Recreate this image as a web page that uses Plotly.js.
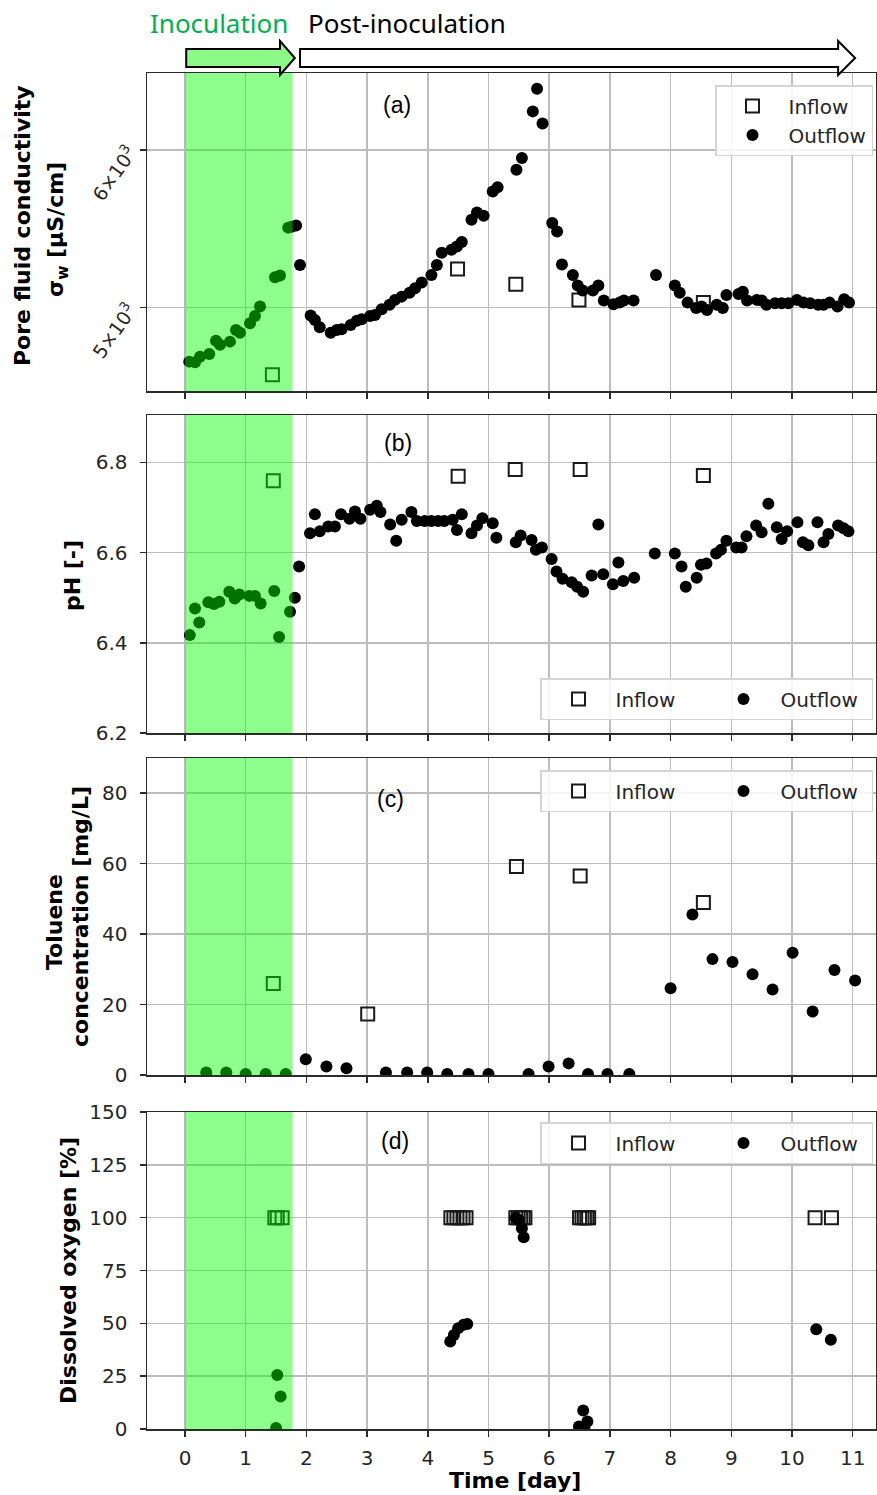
<!DOCTYPE html>
<html><head><meta charset="utf-8">
<script src="https://cdn.plot.ly/plotly-3.0.1.min.js"></script>
<style>body{margin:0;background:#fff}</style>
</head><body>
<div id="chart" style="width:877px;height:1495px"></div>
<script>
// ---------- data ----------
const dayTicks = [0,1,2,3,4,5,6,7,8,9,10,11];
const dayTickLabels = ['0','1','2','3','4','5','6','7','8','9','10','11'];

// (a) pore fluid conductivity [uS/cm]
const condInX = [1.44, 4.49, 5.45, 6.49, 8.54];
const condInY = [4626, 5229, 5137, 5045, 5029];
const condOutX = [0.07,0.165,0.247,0.40,0.51,0.577,0.741,0.84,0.906,1.071,1.153,1.236,1.483,1.565,1.70,1.757,
  1.83,1.895,2.07,2.14,2.22,2.40,2.50,2.58,2.73,2.83,2.91,3.05,3.13,3.24,3.37,3.46,3.57,3.70,3.79,3.90,4.06,4.15,4.23,
  4.39,4.48,4.56,4.72,4.81,4.92,5.07,5.15,5.46,5.55,5.73,5.80,5.89,6.05,6.13,6.21,6.39,6.47,6.55,6.72,6.81,6.90,7.06,
  7.16,7.23,7.39,7.76,8.07,8.15,8.28,8.42,8.51,8.60,8.76,8.86,8.92,9.12,9.19,9.26,9.42,9.50,9.58,9.72,9.83,9.94,10.08,
  10.19,10.30,10.43,10.52,10.62,10.75,10.86,10.94];
const condOutY = [4697,4694,4724,4739,4812,4789,4807,4872,4857,4910,4952,5006,5179,5189,5485,5491,
  5498,5253,4954,4929,4888,4857,4872,4876,4901,4925,4933,4952,4958,4991,5016,5045,5064,5087,5113,5147,5192,5253,5328,
  5346,5366,5394,5535,5582,5561,5719,5747,5865,5945,6275,6442,6187,5514,5461,5256,5193,5129,5100,5100,5129,5041,5020,
  5029,5041,5041,5192,5129,5087,5029,4998,5006,4986,5016,4998,5074,5080,5093,5041,5045,5041,5016,5025,5025,5025,5045,
  5029,5025,5016,5016,5029,5006,5049,5029];

// (b) pH
const phInX = [1.455, 4.50, 5.44, 6.51, 8.54];
const phInY = [6.759, 6.769, 6.784, 6.784, 6.771];
const phOutX = [0.08,0.165,0.236,0.385,0.478,0.566,0.73,0.82,0.895,1.06,1.153,1.247,1.47,1.55,1.73,
  1.81,1.88,2.06,2.14,2.22,2.36,2.47,2.57,2.71,2.80,2.89,3.05,3.16,3.22,3.38,3.48,3.57,3.73,3.82,3.95,4.06,4.17,4.27,
  4.41,4.48,4.56,4.72,4.81,4.90,5.07,5.13,5.45,5.53,5.71,5.78,5.88,6.04,6.12,6.22,6.37,6.46,6.56,6.70,6.81,6.89,7.05,
  7.14,7.22,7.40,7.74,8.07,8.18,8.25,8.43,8.50,8.59,8.75,8.83,8.92,9.08,9.17,9.25,9.41,9.50,9.61,9.75,9.83,9.92,10.09,
  10.18,10.27,10.42,10.52,10.60,10.76,10.85,10.93];
const phOutY = [6.417,6.476,6.445,6.490,6.486,6.491,6.513,6.498,6.507,6.504,6.504,6.487,6.515,6.413,6.469,
  6.500,6.569,6.643,6.685,6.647,6.658,6.658,6.685,6.675,6.691,6.675,6.695,6.704,6.690,6.662,6.626,6.673,6.690,6.670,6.670,6.670,6.670,6.670,
  6.673,6.650,6.685,6.643,6.660,6.676,6.665,6.633,6.623,6.638,6.628,6.606,6.611,6.586,6.558,6.542,6.534,6.524,6.513,6.549,6.662,6.552,6.530,
  6.578,6.537,6.544,6.598,6.598,6.569,6.524,6.544,6.573,6.576,6.598,6.606,6.626,6.611,6.611,6.636,6.660,6.645,6.708,6.656,6.630,6.647,6.667,
  6.623,6.616,6.667,6.623,6.641,6.660,6.654,6.647];

// (c) toluene [mg/L]
const tolInX = [1.455, 3.01, 5.46, 6.51, 8.54];
const tolInY = [26.0, 17.3, 59.2, 56.5, 49.0];
const tolOutX = [0.35,0.68,1.0,1.33,1.66,1.99,2.33,2.66,3.31,3.66,3.99,4.32,4.67,5.0,5.66,5.99,6.32,6.64,6.96,7.32,
  8.0,8.36,8.69,9.02,9.35,9.68,10.01,10.34,10.70,11.04];
const tolOutY = [0.7,0.7,0.3,0.3,0.3,4.45,2.4,1.9,0.7,0.7,0.7,0.3,0.3,0.3,0.3,2.4,3.3,0.3,0.3,0.3,
  24.6,45.6,32.9,32.1,28.6,24.3,34.7,18.0,29.8,26.8];

// (d) dissolved oxygen [%]
const doInX = [1.48,1.52,1.60,4.38,4.43,4.48,4.53,4.58,4.63,5.45,5.49,5.53,5.57,5.60,6.50,6.54,6.58,6.62,6.65,10.38,10.65];
const doInY = [100,100,100,100,100,100,100,100,100,100,100,100,100,100,100,100,100,100,100,100,100];
const doOutX = [1.52,1.575,1.50,4.37,4.43,4.50,4.59,4.65,5.45,5.50,5.55,5.58,6.49,6.56,6.58,6.63,10.40,10.64];
const doOutY = [25.5,15.4,0.5,41.4,44.5,47.7,49.3,49.7,100,99,95,90.7,1.2,8.8,0.5,3.6,47.2,42.2];

const panelLabels = ['(a)','(b)','(c)','(d)'];
const seriesNames = ['Inflow','Outflow'];

// ---------- layout helpers ----------
const W = 877, H = 1495, ML = 147, MR = 1, MT = 73, MB = 66;
const PW = W - ML - MR, PH = H - MT - MB;
const pxX = p => (p - ML) / PW;          // pixel -> paper x
const pxY = p => (H - MB - p) / PH;      // pixel -> paper y
const dom = (top, bot) => [pxY(bot), pxY(top)];

const gridC = '#bdbdbd', lineC = '#2b2b2b', txtC = '#262626';
const tickFont = {family: 'DejaVu Sans', size: 20, color: txtC};
const xRange = [-0.626, 11.384];

function xa(anchor, show) {
  return {anchor: anchor, range: xRange, tickvals: dayTicks, ticktext: dayTickLabels,
    showticklabels: show, ticks: 'outside', ticklen: 6, tickwidth: 1.5, tickcolor: lineC,
    showgrid: true, gridcolor: gridC, gridwidth: 1.5, zeroline: false,
    showline: true, mirror: true, linecolor: lineC, linewidth: 1.5,
    tickfont: tickFont, ticklabelstandoff: 4};
}
function ya(domain, extra) {
  return Object.assign({domain: domain, ticks: 'outside', ticklen: 6, tickwidth: 1.5, tickcolor: lineC,
    showgrid: true, gridcolor: gridC, gridwidth: 1.5, zeroline: false,
    showline: true, mirror: true, linecolor: lineC, linewidth: 1.5,
    tickfont: tickFont, ticklabelstandoff: 8}, extra);
}

const inMarker = {symbol: 'square', size: 13, color: 'rgba(0,0,0,0)', line: {color: '#1a1a1a', width: 2}};
const outMarker = {symbol: 'circle', size: 12, color: '#000', line: {width: 0}};

function pair(xIn, yIn, xOut, yOut, xr, yr, leg) {
  return [
    {type: 'scatter', mode: 'markers', name: seriesNames[0], x: xIn, y: yIn, xaxis: xr, yaxis: yr,
     marker: inMarker, legend: leg},
    {type: 'scatter', mode: 'markers', name: seriesNames[1], x: xOut, y: yOut, xaxis: xr, yaxis: yr,
     marker: outMarker, legend: leg}
  ];
}

const data = [].concat(
  pair(condInX, condInY, condOutX, condOutY, 'x', 'y', 'legend'),
  pair(phInX, phInY, phOutX, phOutY, 'x2', 'y2', 'legend2'),
  pair(tolInX, tolInY, tolOutX, tolOutY, 'x3', 'y3', 'legend3'),
  pair(doInX, doInY, doOutX, doOutY, 'x4', 'y4', 'legend4')
);

const legBase = {bgcolor: 'rgba(255,255,255,0.85)', bordercolor: '#d4d4d4', borderwidth: 1.5,
  font: {family: 'DejaVu Sans', size: 20, color: txtC}, itemwidth: 62, xanchor: 'right', x: pxX(873)};
const legH = Object.assign({}, legBase, {orientation: 'h', itemwidth: 64, entrywidth: 86, entrywidthmode: 'pixels'});

// green inoculation band on each panel
const bandEnd = 1.77;
const shapes = [];
['', '2', '3', '4'].forEach(s => {
  shapes.push({type: 'rect', xref: 'x' + s, yref: 'y' + s + ' domain', x0: 0, x1: bandEnd, y0: 0, y1: 1,
    fillcolor: 'rgb(0,255,0)', opacity: 0.45, line: {width: 0}, layer: 'above'});
});
// phase arrows (x in days, y in paper)
function arrow(x0, xh, xt, fill) {
  const yb1 = pxY(49), yb2 = pxY(67), yh1 = pxY(41), yh2 = pxY(75), yt = pxY(58);
  return {type: 'path', xref: 'x', yref: 'paper',
    path: `M${x0},${yb1} L${xh},${yb1} L${xh},${yh1} L${xt},${yt} L${xh},${yh2} L${xh},${yb2} L${x0},${yb2} Z`,
    fillcolor: fill, line: {color: '#000', width: 2}, layer: 'above'};
}
shapes.push(arrow(0.02, 1.565, 1.81, 'rgb(140,250,134)'));
shapes.push(arrow(1.895, 10.76, 11.04, '#ffffff'));

const titleFont = {family: 'DejaVu Sans', size: 22, color: '#000'};
function yTitle(text, px, py) {
  return {text: '<b>' + text + '</b>', xref: 'paper', yref: 'paper', x: pxX(px), y: pxY(py),
    xanchor: 'center', yanchor: 'middle', textangle: -90, showarrow: false, font: titleFont};
}
const annotations = [
  {text: 'Inoculation', xref: 'paper', yref: 'paper', x: pxX(219), y: pxY(23), xanchor: 'center', yanchor: 'middle',
   showarrow: false, font: {family: 'Noto Sans', size: 26, color: 'rgb(0,176,80)'}},
  {text: 'Post-inoculation', xref: 'paper', yref: 'paper', x: pxX(407), y: pxY(23), xanchor: 'center', yanchor: 'middle',
   showarrow: false, font: {family: 'Noto Sans', size: 26, color: '#000'}},
  yTitle('Pore fluid conductivity', 22, 226),
  yTitle('σ<sub>w</sub> [µS/cm]', 57, 230),
  yTitle('pH [-]', 72, 576),
  yTitle('Toluene', 54, 922),
  yTitle('concentration [mg/L]', 80, 917),
  yTitle('Dissolved oxygen [%]', 68, 1271),
  {text: '<b>Time [day]</b>', xref: 'paper', yref: 'paper', x: pxX(515), y: pxY(1480), xanchor: 'center', yanchor: 'middle',
   showarrow: false, font: titleFont}
];
const labelPos = [[3.49, 105], [3.51, 443], [3.39, 799], [3.46, 1141]];
panelLabels.forEach((t, i) => {
  annotations.push({text: t, xref: 'x', yref: 'paper', x: labelPos[i][0], y: pxY(labelPos[i][1]),
    xanchor: 'center', yanchor: 'middle', showarrow: false,
    font: {family: 'Liberation Sans', size: 23, color: '#000'}});
});

const layout = {
  width: W, height: H, margin: {l: ML, r: MR, t: MT, b: MB, pad: 0},
  paper_bgcolor: '#fff', plot_bgcolor: '#fff', showlegend: true,
  xaxis: xa('y', false),
  xaxis2: Object.assign(xa('y2', false), {matches: 'x'}),
  xaxis3: Object.assign(xa('y3', false), {matches: 'x'}),
  xaxis4: Object.assign(xa('y4', true), {matches: 'x'}),
  yaxis: ya(dom(73, 391), {type: 'log', range: [Math.log10(4540), Math.log10(6560)],
    tickvals: [5000, 6000], ticktext: ['5×10<sup>3</sup>', '6×10<sup>3</sup>'], tickangle: -55,
    tickfont: {family: 'DejaVu Sans', size: 19, color: txtC}, ticklabelstandoff: 6}),
  yaxis2: ya(dom(415, 733), {range: [6.2, 6.905], tickvals: [6.2, 6.4, 6.6, 6.8], ticktext: ['6.2','6.4','6.6','6.8']}),
  yaxis3: ya(dom(758, 1075), {range: [0, 90], tickvals: [0, 20, 40, 60, 80], ticktext: ['0','20','40','60','80']}),
  yaxis4: ya(dom(1112, 1429), {range: [0, 150], tickvals: [0, 25, 50, 75, 100, 125, 150],
    ticktext: ['0','25','50','75','100','125','150']}),
  legend: Object.assign({}, legBase, {orientation: 'v', y: pxY(85), yanchor: 'top'}),
  legend2: Object.assign({}, legH, {y: pxY(720), yanchor: 'bottom'}),
  legend3: Object.assign({}, legH, {y: pxY(770), yanchor: 'top'}),
  legend4: Object.assign({}, legH, {y: pxY(1122), yanchor: 'top'}),
  shapes: shapes,
  annotations: annotations
};

Plotly.newPlot('chart', data, layout, {displayModeBar: false, staticPlot: true});
</script>
</body></html>
